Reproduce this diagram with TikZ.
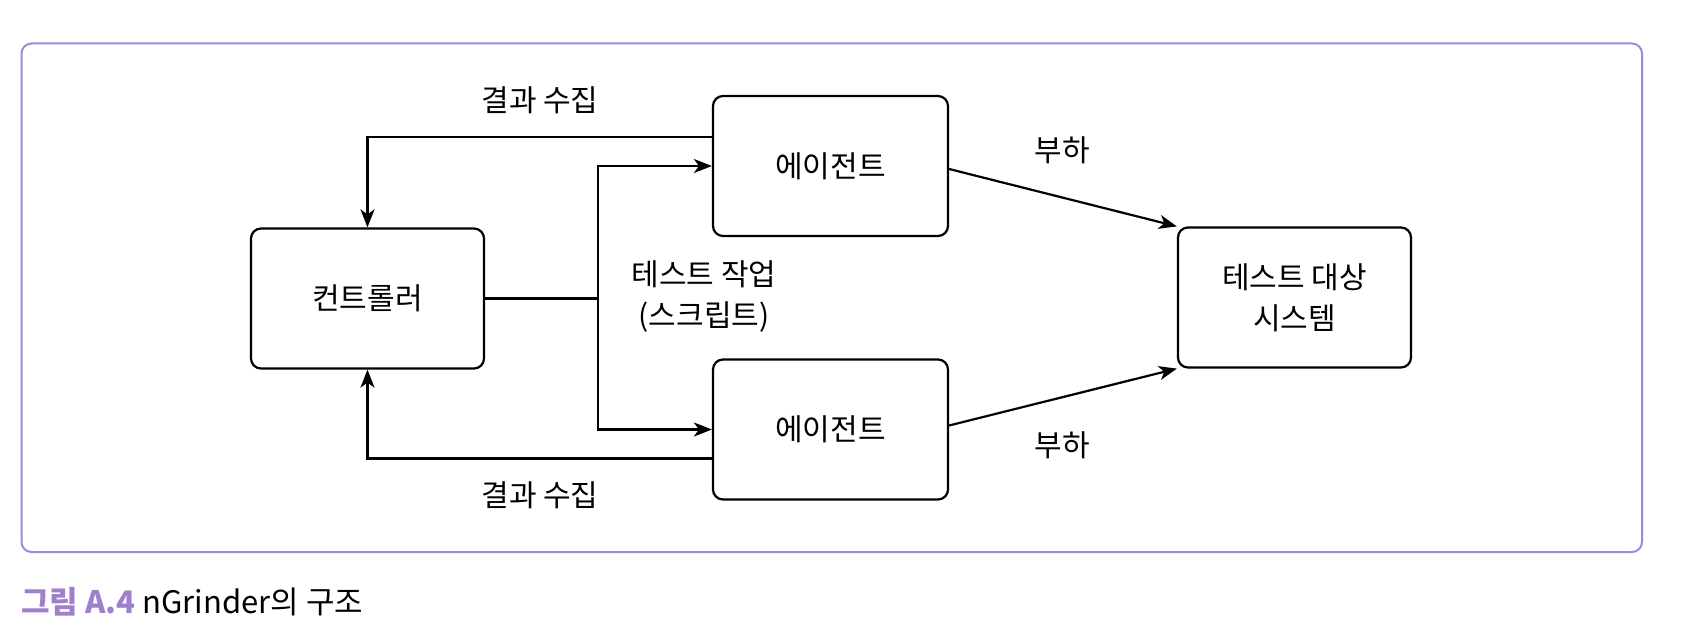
\documentclass[tikz,border=0pt]{standalone}
\usepackage{fontspec}
\setmainfont{Noto Sans CJK KR}
\usetikzlibrary{arrows.meta,positioning}
\definecolor{frameviolet}{RGB}{165,135,215}
\definecolor{capviolet}{RGB}{160,128,205}
\tikzset{
  box/.style={draw=black, line width=2.2pt, rounded corners=10pt, minimum width=233pt, minimum height=140pt, inner sep=0pt, font=\fontsize{30}{41}\selectfont, align=center},
  arr/.style={draw=black, line width=2.2pt, -{Stealth[length=18pt,width=14pt,inset=5pt]}},
  conn/.style={draw=black, line width=2.2pt},
  lbl/.style={font=\fontsize{30}{41}\selectfont, align=center, inner sep=0pt}
}
\begin{document}
\begin{tikzpicture}[x=1pt,y=-1pt]
\useasboundingbox[fill=white] (0,0) rectangle (1682,634);
\draw[frameviolet, line width=2pt, rounded corners=10pt] (21.5,43.5) rectangle (1642,552);

\node[box] (ctrl) at (367.5,298.5) {컨트롤러};
\node[box, minimum width=235pt] (ag1) at (830.5,166) {에이전트};
\node[box, minimum width=235pt] (ag2) at (830.5,429.5) {에이전트};
\node[box] (tgt) at (1294.5,297.5) {테스트 대상\\시스템};

\coordinate (split) at (598,298.5);
\draw[conn] (ctrl.east) -- (split);
\draw[arr] (split) |- (ag1.west);
\draw[arr] (split) |- (ag2.west);
\draw[arr] ([yshift=29pt]ag1.west) -| (ctrl.north);
\draw[arr] ([yshift=-29pt]ag2.west) -| (ctrl.south);
\draw[arr] ([yshift=-3pt]ag1.east) -- (tgt.north west);
\draw[arr] ([yshift=4pt]ag2.east) -- (tgt.south west);

\node[lbl] (l1) at (540,100) {결과 수집};
\node[lbl] (l2) at (540,495) {결과 수집};
\node[lbl] (l3) at (1062,150) {부하};
\node[lbl] (l4) at (1062,445) {부하};
\node[lbl] (l5) at (704,297) {테스트 작업\\(스크립트)};

\node[anchor=base west, inner sep=0pt, font=\fontsize{31}{36}\selectfont] (cap) at (21,613) {{\color{capviolet}\bfseries 그림 A.4} nGrinder의 구조};
\end{tikzpicture}
\end{document}
